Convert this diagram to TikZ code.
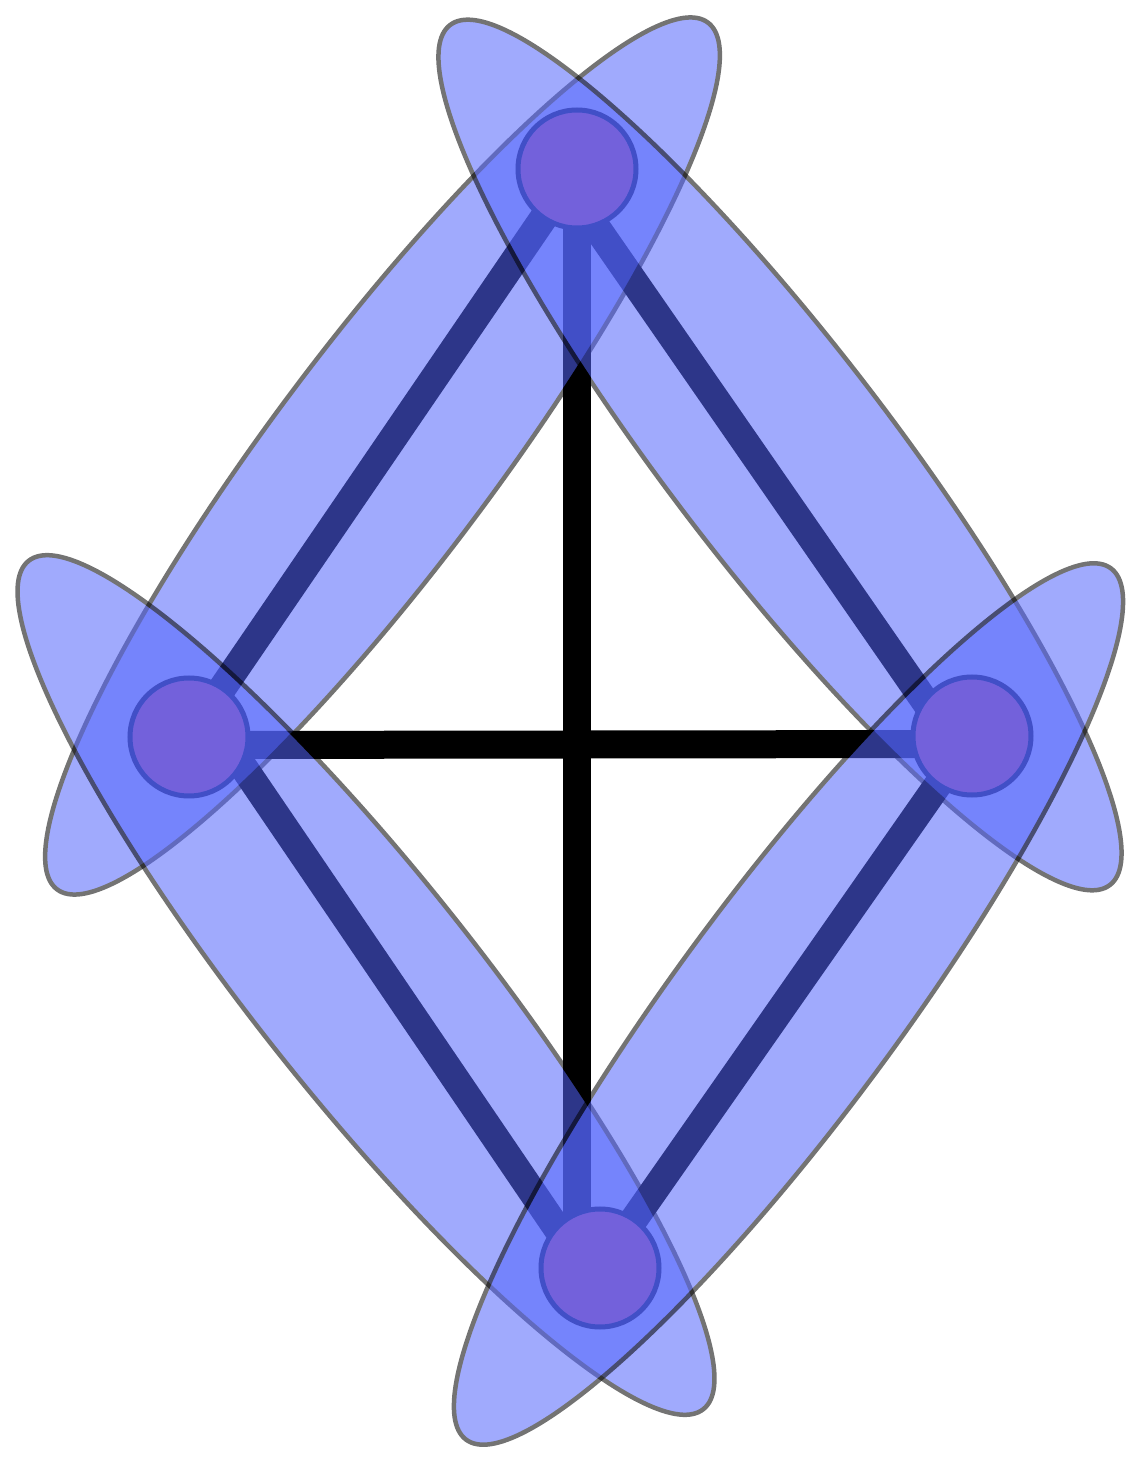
\documentclass[tikz,border=0pt]{standalone}
\usepackage{tikz}
\usepackage{xcolor}
\usetikzlibrary{shapes.geometric}
\definecolor{hyperblue}{RGB}{82,100,251}
\definecolor{vertexred}{RGB}{250,90,100}

\begin{document}
\begin{tikzpicture}[
    vertex/.style={circle, draw=black, line width=0.05cm, fill=vertexred,
      minimum size=1.18cm, inner sep=0pt},
    link/.style={line width=0.28cm},
    hyperedge/.style={ellipse, draw=black, line width=0.045cm, fill=hyperblue,
      minimum width=10.84cm, minimum height=2.22cm, inner sep=0pt},
    shade group/.style={transparency group, opacity=0.55}
  ]
  \useasboundingbox (0,0) rectangle (11.34,14.65);
  % Vertex positions
  \coordinate (T) at (5.77,12.96);
  \coordinate (L) at (1.89,7.28);
  \coordinate (R) at (9.72,7.29);
  \coordinate (B) at (6.00,1.97);
  % Edges
  \draw[link] (T) -- (T |- B);
  \draw[link] ([yshift=-0.08cm]L) -- ([yshift=-0.08cm]R);
  \draw[link] (T) -- (L);
  \draw[link] ([xshift=-0.21cm]T) -- ([xshift=-0.23cm]R);
  \draw[link] ([xshift=0.34cm]L) -- ([xshift=-0.16cm]B);
  \draw[link] (R) -- (B);
  % Vertices
  \node[vertex] (vT) at (T) {};
  \node[vertex] (vL) at (L) {};
  \node[vertex] (vR) at (R) {};
  \node[vertex] (vB) at (B) {};
  % Hyperedges
  \begin{scope}[shade group]
    \node[hyperedge, rotate=53.1] (eTL) at (3.825,10.09) {};
  \end{scope}
  \begin{scope}[shade group]
    \node[hyperedge, rotate=-52.5] (eTR) at (7.80,10.10) {};
  \end{scope}
  \begin{scope}[shade group]
    \node[hyperedge, rotate=-51.5] (eLB) at (3.66,4.80) {};
  \end{scope}
  \begin{scope}[shade group]
    \node[hyperedge, rotate=53.5] (eRB) at (7.885,4.61) {};
  \end{scope}
\end{tikzpicture}
\end{document}
